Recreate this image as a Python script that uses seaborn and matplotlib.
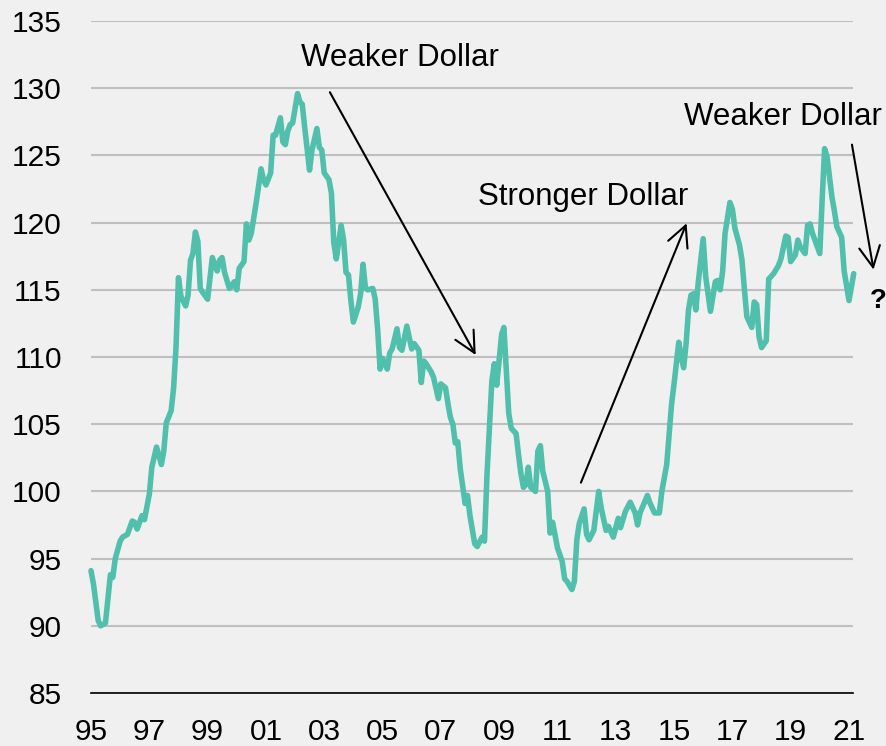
import matplotlib
matplotlib.use("Agg")
import matplotlib.pyplot as plt
import matplotlib.dates as mdates
import pandas as pd
import seaborn as sns

# Trade-weighted dollar index, monthly observations
months = [
    "1995-01", "1995-02", "1995-04", "1995-05", "1995-07", "1995-09", "1995-10", "1995-11",
    "1996-01", "1996-02", "1996-04", "1996-06", "1996-07", "1996-08", "1996-10", "1996-11",
    "1997-01", "1997-02", "1997-04", "1997-06", "1997-07", "1997-08", "1997-10", "1997-11", "1997-12",
    "1998-01", "1998-02", "1998-04", "1998-05", "1998-06", "1998-07", "1998-08", "1998-09", "1998-10", "1998-11",
    "1999-01", "1999-03", "1999-05", "1999-06", "1999-07", "1999-08", "1999-10", "1999-11", "1999-12",
    "2000-01", "2000-02", "2000-04", "2000-05", "2000-06", "2000-07", "2000-09", "2000-11", "2000-12",
    "2001-01", "2001-03", "2001-04", "2001-05", "2001-07", "2001-08", "2001-09", "2001-10", "2001-11", "2001-12",
    "2002-02", "2002-03", "2002-04", "2002-05", "2002-07", "2002-08", "2002-10", "2002-11", "2002-12",
    "2003-01", "2003-03", "2003-04", "2003-05", "2003-06", "2003-08", "2003-09", "2003-10", "2003-11", "2003-12",
    "2004-01", "2004-03", "2004-04", "2004-05", "2004-06", "2004-07", "2004-09", "2004-10", "2004-11", "2004-12",
    "2005-01", "2005-03", "2005-04", "2005-05", "2005-07", "2005-08", "2005-09", "2005-11",
    "2006-01", "2006-02", "2006-04", "2006-05", "2006-06", "2006-07", "2006-09", "2006-10", "2006-12",
    "2007-01", "2007-03", "2007-04", "2007-05", "2007-06", "2007-07", "2007-08", "2007-09", "2007-11", "2007-12",
    "2008-01", "2008-03", "2008-04", "2008-06", "2008-07", "2008-08", "2008-10", "2008-11", "2008-12",
    "2009-02", "2009-03", "2009-05", "2009-06", "2009-08", "2009-09", "2009-10", "2009-11", "2009-12",
    "2010-01", "2010-02", "2010-04", "2010-05", "2010-06", "2010-07", "2010-09", "2010-10", "2010-11", "2010-12",
    "2011-01", "2011-03", "2011-04", "2011-05", "2011-07", "2011-08", "2011-09", "2011-10", "2011-12",
    "2012-01", "2012-02", "2012-04", "2012-06", "2012-07", "2012-09", "2012-10", "2012-12",
    "2013-02", "2013-03", "2013-05", "2013-07", "2013-09", "2013-10", "2013-11",
    "2014-02", "2014-03", "2014-05", "2014-07", "2014-08", "2014-10", "2014-11", "2014-12",
    "2015-01", "2015-03", "2015-04", "2015-05", "2015-06", "2015-07", "2015-08", "2015-09", "2015-10", "2015-11",
    "2016-01", "2016-02", "2016-04", "2016-05", "2016-06", "2016-07", "2016-08", "2016-09", "2016-10", "2016-12",
    "2017-01", "2017-02", "2017-04", "2017-05", "2017-06", "2017-07", "2017-09", "2017-10", "2017-11", "2017-12",
    "2018-01", "2018-03", "2018-04", "2018-06", "2018-08", "2018-09", "2018-11", "2018-12",
    "2019-01", "2019-03", "2019-04", "2019-05", "2019-07", "2019-08", "2019-09", "2019-10", "2019-12",
    "2020-01", "2020-02", "2020-03", "2020-04", "2020-06", "2020-07", "2020-08", "2020-10", "2020-11",
    "2021-01", "2021-03",
]
index_values = [
    94.1, 93.1, 90.4, 90.0, 90.2, 93.8, 93.6, 95.0,
    96.3, 96.6, 96.8, 97.8, 97.7, 97.2, 98.2, 97.9,
    99.8, 101.8, 103.3, 102.0, 103.0, 105.1, 106.0, 107.7, 110.7,
    115.9, 114.5, 113.8, 114.6, 117.2, 117.7, 119.3, 118.6, 115.1, 114.8,
    114.3, 117.4, 116.4, 117.2, 117.4, 116.3, 115.1, 115.3, 115.6,
    115.0, 116.6, 117.1, 119.9, 118.7, 119.2, 121.5, 124.0, 123.2,
    122.8, 123.7, 126.5, 126.5, 127.8, 126.0, 125.8, 126.8, 127.3, 127.4,
    129.6, 129.0, 128.8, 127.1, 123.9, 125.4, 127.0, 125.6, 125.4,
    123.7, 123.2, 122.2, 118.5, 117.3, 119.8, 118.7, 116.3, 116.1, 114.2,
    112.6, 113.7, 114.7, 116.9, 115.1, 115.0, 115.1, 114.3, 112.0, 109.1,
    109.9, 109.1, 110.3, 110.6, 112.1, 110.7, 110.5, 112.3,
    110.6, 111.0, 110.5, 108.1, 109.7, 109.5, 108.9, 108.5, 106.9,
    108.0, 107.7, 106.5, 105.5, 105.0, 103.6, 103.7, 101.7, 99.1, 99.7,
    98.2, 96.1, 95.9, 96.6, 96.3, 101.2, 108.2, 109.5, 107.9,
    111.7, 112.2, 105.8, 104.7, 104.3, 102.7, 101.3, 100.3, 100.5,
    101.8, 100.3, 100.0, 103.0, 103.4, 101.5, 100.0, 96.9, 97.7, 96.8,
    95.8, 94.8, 93.5, 93.3, 92.7, 93.3, 96.4, 97.6, 98.7,
    96.8, 96.4, 97.1, 100.0, 98.8, 97.1, 97.4, 96.6,
    98.0, 97.3, 98.5, 99.2, 98.4, 97.5, 98.4,
    99.7, 99.2, 98.4, 98.4, 100.0, 102.0, 104.3, 106.5,
    108.0, 111.1, 110.0, 109.2, 111.0, 113.5, 114.6, 114.7, 113.5, 115.6,
    118.8, 116.0, 113.4, 114.5, 115.6, 115.7, 115.0, 116.4, 119.2, 121.5,
    121.0, 119.6, 118.3, 117.2, 115.0, 113.0, 112.2, 114.1, 113.9, 111.5,
    110.7, 111.2, 115.8, 116.2, 116.8, 117.3, 119.0, 118.9,
    117.1, 117.6, 118.7, 118.2, 117.7, 119.8, 119.9, 119.2, 118.2,
    117.7, 121.9, 125.5, 124.9, 121.9, 120.9, 119.7, 118.9, 116.4,
    114.2, 116.2,
]

y_ticks = [85, 90, 95, 100, 105, 110, 115, 120, 125, 130, 135]
x_tick_years = [1995, 1997, 1999, 2001, 2003, 2005, 2007, 2009, 2011, 2013, 2015, 2017, 2019, 2021]
x_tick_labels = ["95", "97", "99", "01", "03", "05", "07", "09", "11", "13", "15", "17", "19", "21"]

BG = "#F0F0F0"
LINE = "#50BFAC"

sns.set_theme(style="white")
plt.rcParams["font.family"] = ["Liberation Sans", "DejaVu Sans"]

fig = plt.figure(figsize=(8.87, 7.46), dpi=100, facecolor=BG)
ax = fig.add_axes([91 / 887, 1 - 693 / 746, 762 / 887, 672 / 746])
ax.set_facecolor(BG)

df = pd.DataFrame({"date": pd.to_datetime(months), "index": index_values})
sns.lineplot(data=df, x="date", y="index", ax=ax, color=LINE, linewidth=4.0,
             solid_joinstyle="round", solid_capstyle="round", clip_on=False, zorder=3)

ax.set_ylim(85, 135)
ax.set_xlim(pd.Timestamp("1995-01-01"), pd.Timestamp("2021-02-20"))
ax.set_yticks(y_ticks)
ax.set_xticks(pd.to_datetime([f"{y}-01-01" for y in x_tick_years]))
ax.set_xticklabels(x_tick_labels)
ax.set_xlabel("")
ax.set_ylabel("")

ax.grid(axis="y", color="#BFBFBF", linewidth=1.5)
ax.grid(axis="x", visible=False)
ax.set_axisbelow(True)
for side in ["left", "right", "top"]:
    ax.spines[side].set_visible(False)
ax.spines["bottom"].set_color("black")
ax.spines["bottom"].set_linewidth(1.2)
ax.spines["bottom"].set_zorder(2)
ax.tick_params(axis="both", length=0, labelsize=21.5, colors="black")
ax.tick_params(axis="y", pad=21)
ax.tick_params(axis="x", pad=18)


def d(s):
    return mdates.date2num(pd.Timestamp(s))


arrow_kw = dict(arrowstyle="->,head_length=0.6,head_width=0.3", color="black",
                lw=1.5, shrinkA=0, shrinkB=0, mutation_scale=25)

ax.annotate("", xy=(d("2008-03-13"), 110.15), xytext=(d("2003-03-13"), 129.7),
            arrowprops=arrow_kw, annotation_clip=False)
ax.annotate("", xy=(d("2015-06-07"), 119.95), xytext=(d("2011-10-22"), 100.65),
            arrowprops=arrow_kw, annotation_clip=False)
ax.annotate("", xy=(d("2021-11-04"), 116.5), xytext=(d("2021-02-07"), 125.8),
            arrowprops=arrow_kw, annotation_clip=False)

ax.text(d("2005-08-07"), 132.25, "Weaker Dollar", fontsize=22.5, ha="center", va="center",
        color="black", clip_on=False)
ax.text(d("2011-11-18"), 121.9, "Stronger Dollar", fontsize=22.5, ha="center", va="center",
        color="black", clip_on=False)
ax.text(d("2018-09-28"), 127.86, "Weaker Dollar", fontsize=22.5, ha="center", va="center",
        color="black", clip_on=False)
ax.text(d("2022-01-01"), 114.2, "?", fontsize=20, fontweight="bold", ha="center", va="center",
        color="black", clip_on=False)

fig.savefig("out.png", dpi=100, facecolor=BG)
